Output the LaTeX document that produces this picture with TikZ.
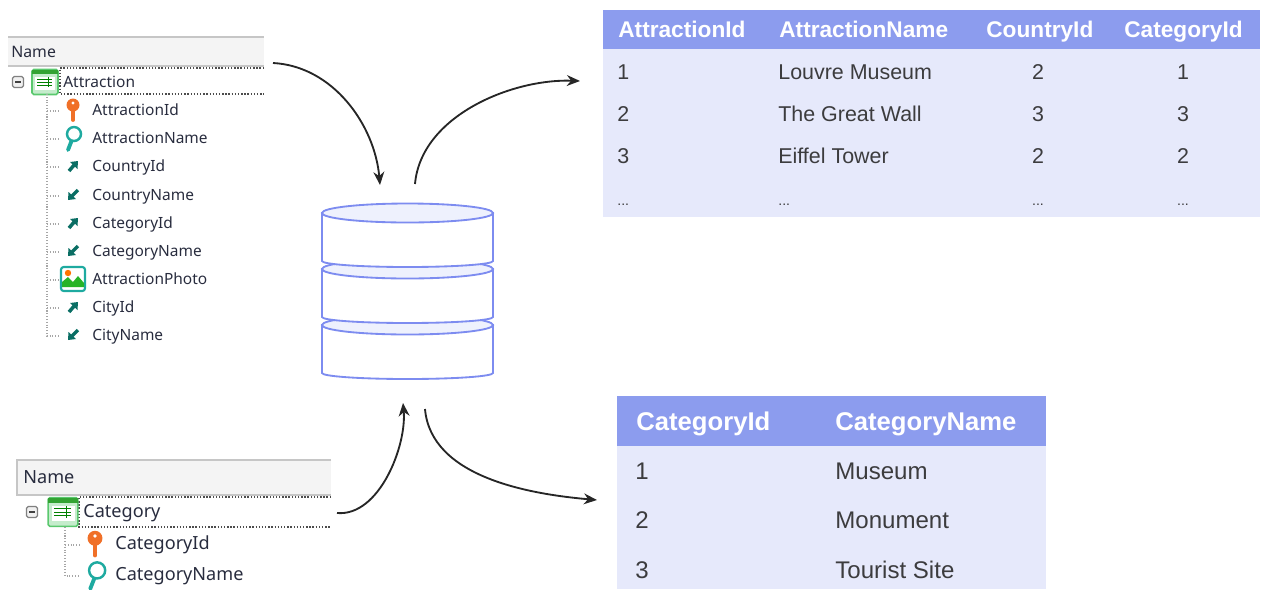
\documentclass[tikz,border=0pt]{standalone}
\usepackage{fontspec}
\setmainfont{Liberation Sans}
\newfontfamily\treefont{Noto Sans}
\usetikzlibrary{arrows.meta, positioning, calc}
\definecolor{headblue}{RGB}{140, 156, 238}
\definecolor{bodyblue}{RGB}{230, 233, 251}
\definecolor{dbblue}{RGB}{125, 140, 240}
\definecolor{dbfill}{RGB}{238, 241, 253}
\definecolor{celltext}{RGB}{60, 60, 62}
\definecolor{treetext}{RGB}{40, 44, 62}
\definecolor{keyorange}{RGB}{240, 112, 40}
\definecolor{searchteal}{RGB}{30, 170, 160}
\definecolor{fkteal}{RGB}{10, 110, 100}
\definecolor{tablegreen}{RGB}{90, 200, 110}
\definecolor{barband}{RGB}{244, 244, 244}
\tikzset{
  headA/.style={anchor=west, inner sep=0pt, text=white, text height=9.5pt, text depth=2pt, font=\fontsize{12.9}{14}\selectfont\bfseries},
  cellA/.style={anchor=west, inner sep=0pt, text=celltext, text height=9pt, text depth=2pt, font=\fontsize{12.2}{14}\selectfont},
  midA/.style={cellA, anchor=center},
  dotsA/.style={font=\fontsize{8}{10}\selectfont},
  headB/.style={anchor=west, inner sep=0pt, text=white, text height=10.5pt, text depth=2.5pt, font=\fontsize{14.6}{16}\selectfont\bfseries},
  cellB/.style={anchor=west, inner sep=0pt, text=celltext, text height=10pt, text depth=2pt, font=\fontsize{13.7}{16}\selectfont},
  treelabel/.style={anchor=west, inner sep=0pt, text=treetext, text height=7pt, text depth=2pt, font=\treefont\fontsize{8.8}{10}\selectfont},
  treelabelB/.style={treelabel, font=\treefont\fontsize{10.3}{12}\selectfont},
  treeline/.style={gray!70, densely dotted, line width=0.6pt},
  rowbox/.style={black!70, densely dotted, line width=0.8pt},
  namebar/.style={fill=barband, draw=none},
  flow/.style={-{Stealth[length=7.5pt, width=6.2pt]}, line width=1.05pt, black!85},
  dbline/.style={draw=dbblue, line width=1.05pt},
  pics/keyicon/.style={code={
    \draw[keyorange, line width=2.2pt, line cap=round] (0,-2) -- (0,10);
    \fill[keyorange] (0,-5) circle (6.5);
    \fill[white] (0,-7) circle (1.6);
  }},
  pics/searchicon/.style={code={
    \draw[searchteal, line width=2.2pt, line cap=round] (-1.5,3) -- (-5,12);
    \draw[searchteal, line width=1.4pt, fill=white] (1,-4) circle (7);
  }},
  pics/fkup/.style={code={
    \draw[fkteal, line width=2pt] (-4,5) -- (2,-2);
    \fill[fkteal] (5,-5) -- (4.5,3) -- (-3,-4) -- cycle;
  }},
  pics/fkdown/.style={code={
    \draw[fkteal, line width=2pt] (5,-5) -- (-2,2);
    \fill[fkteal] (-5,5) -- (-4.5,-3) -- (3,4) -- cycle;
  }},
  pics/tableicon/.style={code={
    \draw[tablegreen, fill=tablegreen!35, line width=0.9pt, rounded corners=1pt] (-13,-12.5) rectangle (13,12.5);
    \fill[green!55!black!80] (-13,-12.5) rectangle (13,-8);
    \fill[white] (-10,-5) rectangle (10,8);
    \draw[green!50!black, line width=0.4pt] (-8,-3) -- (7,-3) (-8,0) -- (7,0) (-8,3) -- (7,3) (3,-5) -- (3,5);
  }},
  pics/photoicon/.style={code={
    \draw[searchteal, fill=white, line width=1.2pt, rounded corners=1.5pt] (-12,-12) rectangle (12,12);
    \fill[orange!90!red] (-5,-6) circle (3.2);
    \fill[green!65!black!85] (-11,8) -- (-11,3) -- (-5,-2) -- (0,3) -- (5,-3) -- (11,4) -- (11,8) -- cycle;
  }},
  pics/expander/.style={code={
    \draw[gray, fill=gray!12, line width=0.7pt, rounded corners=1pt] (-5.5,-5.5) rectangle (5.5,5.5);
    \draw[black!75, line width=0.8pt] (-3,0) -- (3,0);
  }},
  pics/dbdisc/.style={code={
    \path[dbline, fill=white] (-85.5,0) -- (-85.5,48) arc[start angle=180, end angle=360, x radius=85.5, y radius=-6] -- (85.5,0) -- cycle;
    \path[dbline, fill=dbfill] (0,0) circle[x radius=85.5, y radius=9.5];
  }}
}

\begin{document}
\begin{tikzpicture}[x=0.02cm, y=-0.02cm]
  \useasboundingbox (0,0) rectangle (1263,589);

  % Attraction tree
  \fill[namebar] (8,37) rectangle (264,66);
  \draw[gray!45, line width=1pt] (8,37) -- (264,37);
  \draw[gray!45, line width=0.6pt] (8,66) -- (264,66);
  \node[treelabel, font=\treefont\fontsize{9}{10}\selectfont] (nameA) at (11,53) {Name};
  \draw[rowbox] (264,68) -- (60,68) -- (60,94) -- (264,94);
  \pic at (18,82) {expander};
  \pic at (45,82) {tableicon};
  \node[treelabel] (attr) at (63,83) {Attraction};
  \coordinate (trunkA) at (47,94);
  \node[treelabel] (attrid) at (92,111) {AttractionId};
  \node[treelabel] (attrname) at (92,139) {AttractionName};
  \node[treelabel] (countryid) at (92,167) {CountryId};
  \node[treelabel] (countryname) at (92,196) {CountryName};
  \node[treelabel] (catid) at (92,224) {CategoryId};
  \node[treelabel] (catname) at (92,252) {CategoryName};
  \node[treelabel] (photo) at (92,280) {AttractionPhoto};
  \node[treelabel] (cityid) at (92,308) {CityId};
  \node[treelabel] (cityname) at (92,336) {CityName};
  \draw[treeline] (trunkA) -- (trunkA |- cityname) -- ++(13,0);
  \draw[treeline] (trunkA |- attrid) -- ++(13,0);
  \draw[treeline] (trunkA |- attrname) -- ++(13,0);
  \draw[treeline] (trunkA |- countryid) -- ++(13,0);
  \draw[treeline] (trunkA |- countryname) -- ++(13,0);
  \draw[treeline] (trunkA |- catid) -- ++(13,0);
  \draw[treeline] (trunkA |- catname) -- ++(13,0);
  \draw[treeline] (trunkA |- photo) -- ++(13,0);
  \draw[treeline] (trunkA |- cityid) -- ++(13,0);
  \pic at (73,110) {keyicon};
  \pic at (73,138) {searchicon};
  \pic at (73,166) {fkup};
  \pic at (73,195) {fkdown};
  \pic at (73,223) {fkup};
  \pic at (73,251) {fkdown};
  \pic at (73,279) {photoicon};
  \pic at (73,307) {fkup};
  \pic at (73,335) {fkdown};

  % Category tree
  \fill[namebar] (17,460) rectangle (331,495);
  \draw[gray!45, line width=0.8pt] (331,460) -- (17,460) -- (17,495) -- (331,495);
  \node[treelabelB] (nameB) at (23,479) {Name};
  \draw[rowbox] (331,497) -- (79,497) -- (79,527) -- (331,527);
  \pic at (32,512) {expander};
  \pic[scale=1.15] at (63,512) {tableicon};
  \node[treelabelB] (cat) at (83,513) {Category};
  \coordinate (trunkB) at (65,527);
  \node[treelabelB] (catidB) at (115,545) {CategoryId};
  \node[treelabelB] (catnameB) at (115,576) {CategoryName};
  \draw[treeline] (trunkB) -- (trunkB |- catnameB) -- ++(15,0);
  \draw[treeline] (trunkB |- catidB) -- ++(15,0);
  \pic[scale=1.15] at (95,544) {keyicon};
  \pic[scale=1.15] at (96,575) {searchicon};

  % Database
  \pic at (407.5,325) {dbdisc};
  \pic at (407.5,269) {dbdisc};
  \pic at (407.5,213) {dbdisc};

  % Attraction table
  \fill[bodyblue] (603,10) rectangle (1260,217);
  \fill[headblue] (603,10) rectangle (1260,49);
  \node[headA] (h1) at (618,31) {AttractionId};
  \node[headA] (h2) at (779,31) {AttractionName};
  \node[headA] (h3) at (986,31) {CountryId};
  \node[headA] (h4) at (1124,31) {CategoryId};
  \node[cellA] (a11) at (617,73) {1};
  \node[cellA] (a12) at (778,73) {Louvre Museum};
  \node[midA] (a13) at (1038,73) {2};
  \node[midA] (a14) at (1183,73) {1};
  \node[cellA] (a21) at (617,115) {2};
  \node[cellA] (a22) at (778,115) {The Great Wall};
  \node[midA] (a23) at (1038,115) {3};
  \node[midA] (a24) at (1183,115) {3};
  \node[cellA] (a31) at (617,157) {3};
  \node[cellA] (a32) at (778,157) {Eiffel Tower};
  \node[midA] (a33) at (1038,157) {2};
  \node[midA] (a34) at (1183,157) {2};
  \node[cellA, dotsA] (a41) at (617,199) {...};
  \node[cellA, dotsA] (a42) at (778,199) {...};
  \node[midA, dotsA] (a43) at (1038,199) {...};
  \node[midA, dotsA] (a44) at (1183,199) {...};

  % Category table
  \fill[bodyblue] (617,396) rectangle (1046,589);
  \fill[headblue] (617,396) rectangle (1046,446);
  \node[headB] (k1) at (636,423) {CategoryId};
  \node[headB] (k2) at (835,423) {CategoryName};
  \node[cellB] (b11) at (635,472) {1};
  \node[cellB] (b12) at (835,472) {Museum};
  \node[cellB] (b21) at (635,521) {2};
  \node[cellB] (b22) at (835,521) {Monument};
  \node[cellB] (b31) at (635,571) {3};
  \node[cellB] (b32) at (835,571) {Tourist Site};

  % Arrows
  \coordinate (attrout) at (273,63);
  \coordinate (dbin1) at (380,185);
  \coordinate (dbout1) at (415,184);
  \coordinate (tabAin) at (580,81);
  \coordinate (catout) at (337,513);
  \coordinate (dbin2) at (403,403);
  \coordinate (dbout2) at (425,409);
  \coordinate (tabBin) at (597,500);
  \draw[flow] (attrout) to[out=-3, in=95, looseness=0.95] (dbin1);
  \draw[flow] (dbout1) to[out=85, in=178, looseness=0.9] (tabAin);
  \draw[flow] (catout) to[out=-5, in=-85, looseness=0.85] (dbin2);
  \draw[flow] (dbout2) to[out=-85, in=175, looseness=0.9] (tabBin);
\end{tikzpicture}
\end{document}
